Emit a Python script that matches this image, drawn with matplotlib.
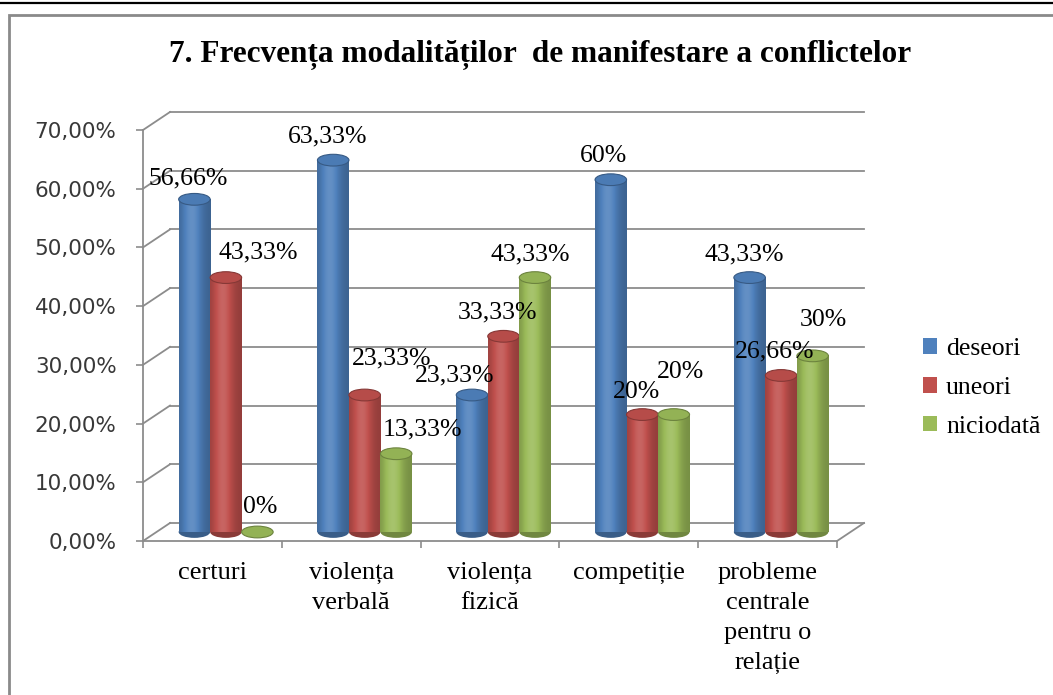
import numpy as np
import matplotlib
matplotlib.use("Agg")
import matplotlib.pyplot as plt
from matplotlib.patches import Ellipse, Rectangle, Patch
from matplotlib.lines import Line2D

plt.rcParams['font.family'] = ['Liberation Serif', 'DejaVu Serif']

categories = ["certuri", "violența\nverbală", "violența\nfizică", "competiție",
              "probleme\ncentrale\npentru o\nrelație"]
series_names = ["deseori", "uneori", "niciodată"]
deseori = [56.66, 63.33, 23.33, 60, 43.33]
uneori = [43.33, 23.33, 33.33, 20, 26.66]
niciodata = [0, 13.33, 43.33, 20, 30]
y_ticks = [0, 10, 20, 30, 40, 50, 60, 70]

colors = ["#4F81BD", "#C0504D", "#9BBB59"]

# label nudges in pixels (dx, dy up) relative to top centre of each cylinder
label_nudge = [
    [(-6, 21), (-6, 24), (-17, 20), (-7, 24), (-5, 23)],
    [(32, 25), (27, 37), (-6, 24), (-6, 23), (-6, 24)],
    [(3, 25), (26, 24), (-5, 23), (7, 43), (11, 36)],
]

W, H = 1053, 695
fig = plt.figure(figsize=(W / 100, H / 100), dpi=100)

# outer frame
fig.add_artist(Line2D([0, 1], [1 - 2.5 / H] * 2, color="black", lw=1.6,
                      transform=fig.transFigure))
fig.add_artist(Rectangle((8.5 / W, -0.05), 1.1, 1 - 14.5 / H + 0.05, fill=False,
                         ec="#8a8a8a", lw=2, transform=fig.transFigure))

ax = fig.add_axes([143 / W, (H - 541) / H, 694 / W, 411 / H])
ax.set_xlim(-0.5, 4.5)
ax.set_ylim(0, 70)

grid_c = "#8c8c8c"
DX = 27 / 138.8   # depth in x units
DY = 18 / 5.87    # depth in y units (percent)

# back wall gridlines + left wall diagonals
for t in y_ticks:
    ax.plot([-0.5 + DX, 4.5 + DX], [t + DY, t + DY], color=grid_c, lw=1.3,
            clip_on=False, zorder=1)
    ax.plot([-0.5, -0.5 + DX], [t, t + DY], color=grid_c, lw=1.3,
            clip_on=False, zorder=1)
# floor right edge
ax.plot([4.5, 4.5 + DX], [0, DY], color=grid_c, lw=1.3, clip_on=False, zorder=1)

for s in ["top", "right"]:
    ax.spines[s].set_visible(False)
for s in ["left", "bottom"]:
    ax.spines[s].set_color(grid_c)
    ax.spines[s].set_linewidth(1.3)

ax.set_yticks(y_ticks)
ax.set_yticklabels([f"{t},00%" for t in y_ticks], fontsize=15.5,
                   family="DejaVu Sans", color="#383838")
ax.tick_params(axis="y", direction="out", length=5, width=1.2, color=grid_c, pad=14)
ax.set_xticks(range(len(categories)))
ax.set_xticklabels(categories, fontsize=19, linespacing=1.48, va="top")
ax.set_xticks(np.arange(-0.5, 5, 1), minor=True)
ax.tick_params(axis="x", which="major", length=0, pad=15)
ax.tick_params(axis="x", which="minor", direction="out", length=5, width=1.2, color=grid_c)


def shade(base, f):
    base = np.array(matplotlib.colors.to_rgb(base))
    if f < 1:
        return base * f
    return base + (1 - base) * (f - 1)


series = [deseori, uneori, niciodata]
bw = 31.5 / 138.8
eh = 2.0
t = np.linspace(0, 1, 40)
fac = 0.76 + 0.36 * np.exp(-((t - 0.4) / 0.32) ** 2)


def fmt(v):
    if float(v).is_integer():
        return f"{int(v)}%"
    return f"{v:.2f}%".replace(".", ",")


z = 3
for i in range(len(categories)):
    for j, vals in enumerate(series):
        v = vals[i]
        xc = i + DX / 2 + (j - 1) * bw
        base = DY / 2
        col = colors[j]
        if v > 0:
            ax.add_patch(Ellipse((xc, base), bw, eh, fc=shade(col, 0.72), ec="none",
                                 zorder=z, clip_on=False))
            grad = np.array([[shade(col, f) for f in fac]])
            ax.imshow(grad, extent=[xc - bw / 2, xc + bw / 2, base, base + v],
                      aspect="auto", zorder=z + 0.1, interpolation="bilinear")
        ax.add_patch(Ellipse((xc, base + v), bw, eh, fc=shade(col, 0.95),
                             ec=shade(col, 0.7), lw=0.8, zorder=z + 0.2, clip_on=False))
        z += 1
        dx, dy = label_nudge[j][i]
        ax.annotate(fmt(v), (xc, base + v), xytext=(dx * 0.72, dy * 0.72),
                    textcoords="offset points", ha="center", va="center",
                    fontsize=18.5, zorder=50)

ax.set_xlim(-0.5, 4.5)
ax.set_ylim(0, 70)

fig.text(540 / W, 1 - 55 / H,
         "7. Frecvența modalităților  de manifestare a conflictelor",
         ha="center", va="center", fontsize=22.5, fontweight="bold")

handles = [Patch(fc=c, ec="none") for c in colors]
fig.legend(handles, series_names, loc="center left",
           bbox_to_anchor=(910 / W, 1 - 388 / H), frameon=False, fontsize=18.5,
           handlelength=0.55, handleheight=0.55, handletextpad=0.35,
           labelspacing=0.65, borderpad=0)

fig.savefig("out.png", dpi=100)
